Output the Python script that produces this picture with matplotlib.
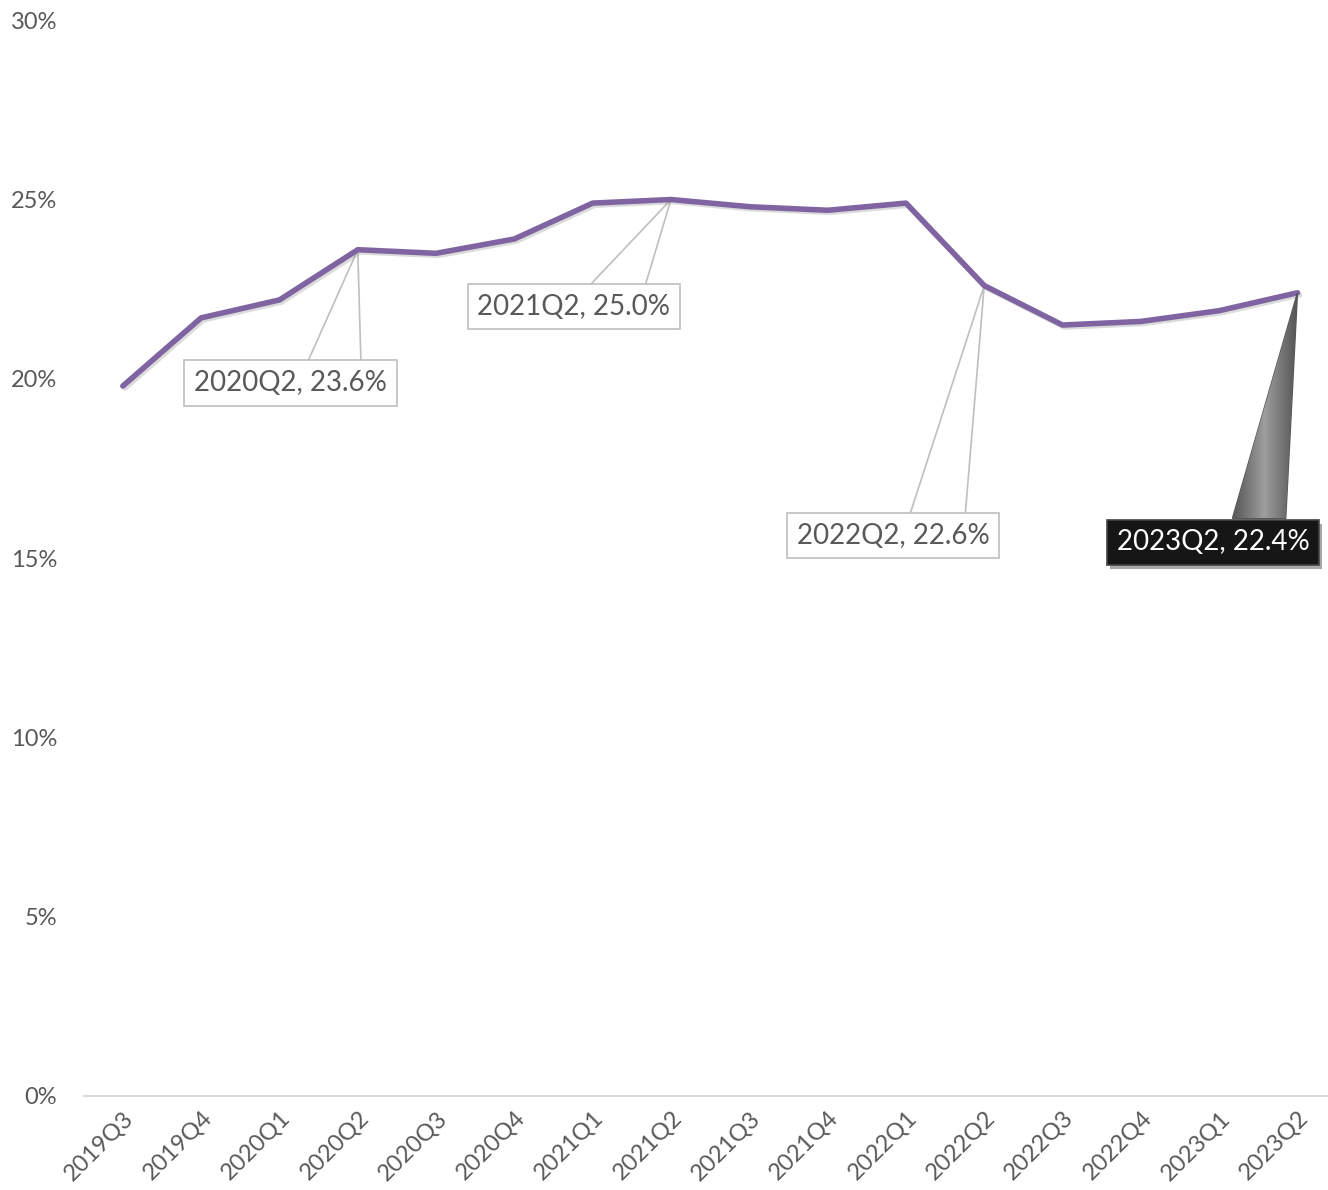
import numpy as np
import matplotlib
matplotlib.use("Agg")
import matplotlib.pyplot as plt
import matplotlib.patheffects as pe
from matplotlib.patches import Polygon

plt.rcParams['font.family'] = ['Lato', 'DejaVu Sans']

# ---------------------------------------------------------------
# dados
quarters = ['2019Q3', '2019Q4', '2020Q1', '2020Q2', '2020Q3', '2020Q4',
            '2021Q1', '2021Q2', '2021Q3', '2021Q4', '2022Q1', '2022Q2',
            '2022Q3', '2022Q4', '2023Q1', '2023Q2']
share = [19.8, 21.7, 22.2, 23.6, 23.5, 23.9, 24.9, 25.0, 24.8, 24.7,
         24.9, 22.6, 21.5, 21.6, 21.9, 22.4]
y_ticks = [0, 5, 10, 15, 20, 25, 30]
labelled = ['2020Q2', '2021Q2', '2022Q2', '2023Q2']

# posicao das caixas: (centro x, centro y, topo y, base da cunha x1, x2)
box_pos = {
    '2020Q2': (2.14, 19.88, 20.52, 2.37, 3.04),
    '2021Q2': (5.76, 22.01, 22.67, 5.99, 6.68),
    '2022Q2': (9.84, 15.63, 16.28, 10.06, 10.76),
    '2023Q2': (13.92, 15.44, 16.11, 14.17, 14.85),
}
# ---------------------------------------------------------------

fig = plt.figure(figsize=(13.28, 11.9), dpi=100)
ax = fig.add_axes([0.063, 0.079, 0.9435, 0.904])

x = np.arange(len(quarters))
ax.plot(x, share, color='#8064A2', lw=4.0, solid_capstyle='round',
        solid_joinstyle='round', zorder=3,
        path_effects=[pe.SimpleLineShadow(offset=(1.5, -1.5), shadow_color='#999999', alpha=0.35),
                      pe.Normal()])

ax.set_xlim(-0.5, len(quarters) - 0.5)
ax.set_ylim(0, 30)
ax.set_yticks(y_ticks)
ax.set_yticklabels(['%d%%' % t for t in y_ticks])
ax.set_xticks(x)
ax.set_xticklabels(quarters, rotation=45, ha='right', va='top', rotation_mode='anchor')

for s in ['top', 'right', 'left']:
    ax.spines[s].set_visible(False)
ax.spines['bottom'].set_color('#D9D9D9')
ax.spines['bottom'].set_linewidth(1.5)
ax.tick_params(axis='both', length=0, labelsize=17, colors='#595959')
ax.tick_params(axis='y', pad=19)
ax.tick_params(axis='x', pad=8)

for q in labelled:
    i = quarters.index(q)
    v = share[i]
    cx, cy, ytop, xa, xb = box_pos[q]
    txt = '%s, %.1f%%' % (q, v)
    if q == '2023Q2':
        # cunha escura com degrade
        poly = Polygon([(xa, ytop), (i, v), (xb, ytop)], closed=True,
                       facecolor='none', edgecolor='#555555', lw=1, zorder=4)
        ax.add_patch(poly)
        grad = np.linspace(0, 1, 256).reshape(1, -1)
        grad = np.abs(grad - 0.5)
        im = ax.imshow(grad, cmap='Greys', vmin=-0.9, vmax=1.0, aspect='auto',
                       extent=(xa, max(xb, i), ytop, v), zorder=4, interpolation='bilinear')
        im.set_clip_path(poly)
        ax.text(cx, cy, txt, ha='center', va='center', fontsize=20, color='white', zorder=6,
                bbox=dict(boxstyle='square,pad=0.35', facecolor='#161616', edgecolor='#444444', lw=1.2,
                          path_effects=[pe.SimplePatchShadow(offset=(2, -3), alpha=0.35), pe.Normal()]))
    else:
        ax.plot([xa, i, xb], [ytop, v, ytop], color='#BFBFBF', lw=1.2, zorder=2)
        ax.text(cx, cy, txt, ha='center', va='center', fontsize=20, color='#595959', zorder=6,
                bbox=dict(boxstyle='square,pad=0.35', facecolor='white', edgecolor='#BFBFBF', lw=1.2))

ax.set_xlim(-0.5, len(quarters) - 0.5)
ax.set_ylim(0, 30)

fig.savefig('out.png', dpi=100)
